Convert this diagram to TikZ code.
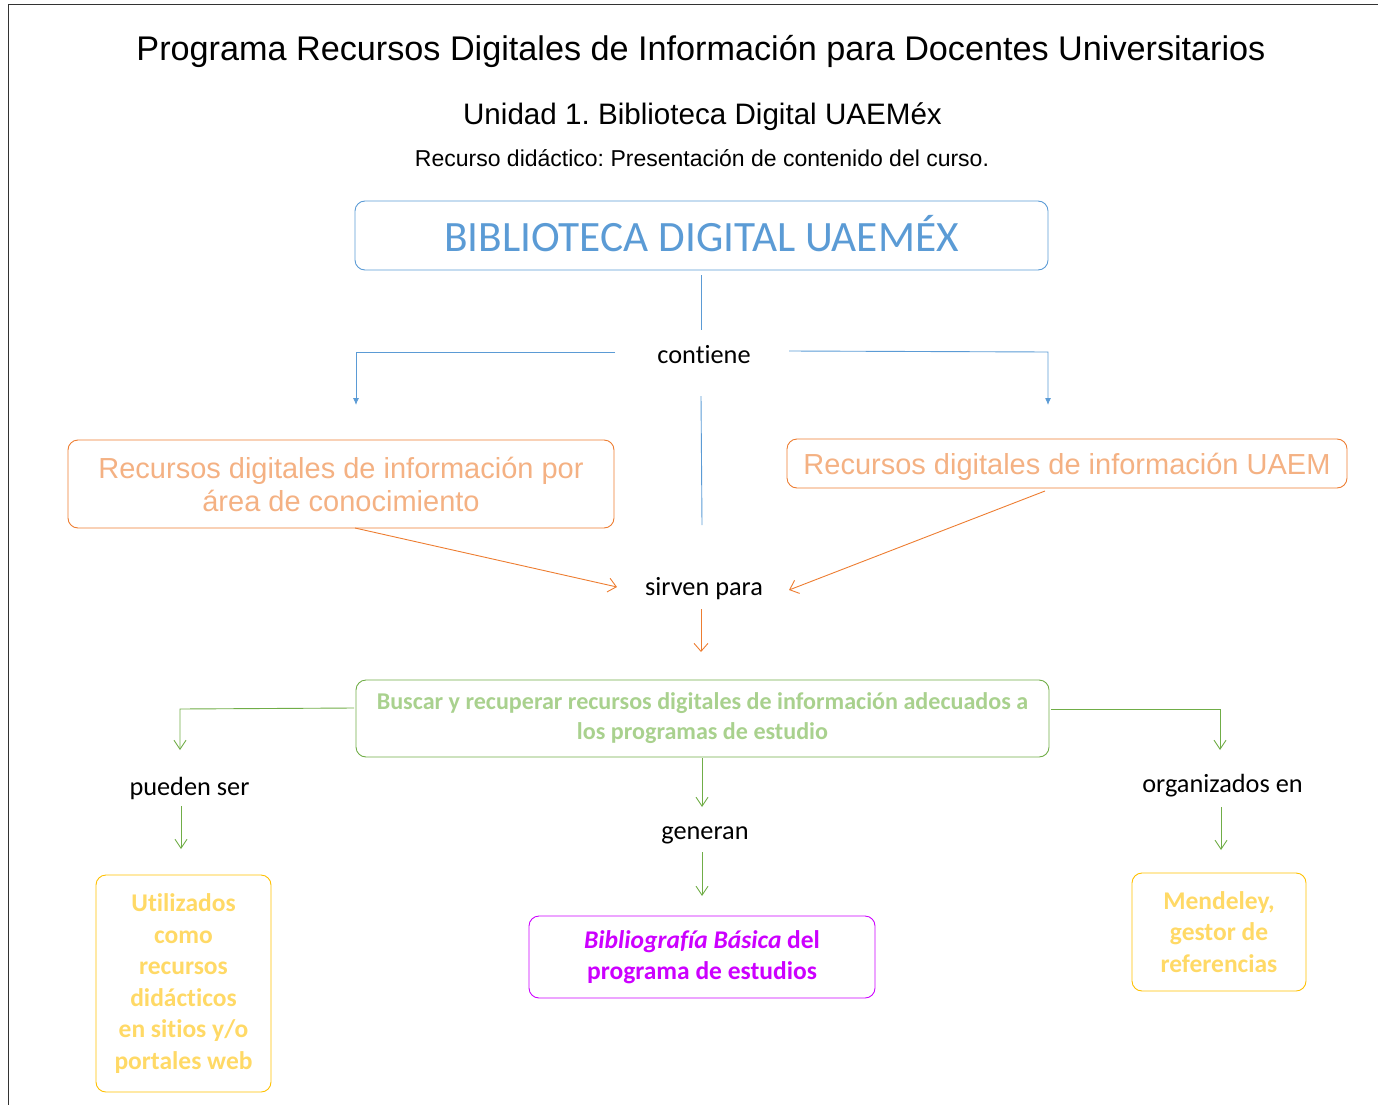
\documentclass[tikz,border=0pt]{standalone}
\usepackage{fontspec}
\setmainfont{Liberation Sans}
\newfontfamily\calib[Ligatures=NoCommon]{Carlito}
\usetikzlibrary{arrows.meta}
\frenchspacing
\definecolor{cblue}{HTML}{5B9BD5}
\definecolor{corange}{HTML}{ED7D31}
\definecolor{corangetxt}{HTML}{F4B183}
\definecolor{cgreen}{HTML}{70AD47}
\definecolor{cgreentxt}{HTML}{A9D18E}
\definecolor{cyellow}{HTML}{FFC000}
\definecolor{cyellowtxt}{HTML}{FFD966}
\definecolor{cmag}{HTML}{CC00FF}
\tikzset{
  box/.style={draw, rounded corners=10pt, line width=0.9pt, align=center, inner sep=0pt},
  lbl/.style={font=\calib\fontsize{26.3}{30}\selectfont, inner sep=0pt},
  bluearr/.style={draw=cblue, line width=0.9pt, -{Latex[length=7pt,width=6pt]}},
  bluel/.style={draw=cblue, line width=0.9pt},
  orarr/.style={draw=corange, line width=0.9pt, -{Straight Barb[length=8pt,width=14pt,line width=0.9pt]}},
  grarr/.style={draw=cgreen, line width=0.9pt, -{Straight Barb[length=9pt,width=12pt,line width=0.9pt]}},
}
\begin{document}
\frenchspacing
\begin{tikzpicture}[x=1pt,y=-1pt]
\useasboundingbox (0,0) rectangle (1378,1105);
\draw[line width=1pt, black!80] (8,1105) -- (8,5) -- (1378,5);

\node[inner sep=0pt, font=\fontsize{34.2}{40}\selectfont] (title) at (701,51.5) {Programa Recursos Digitales de Información para Docentes Universitarios};
\node[inner sep=0pt, font=\fontsize{29.6}{32}\selectfont] (sub) at (702.5,116.5) {Unidad 1. Biblioteca Digital UAEMéx};
\node[inner sep=0pt, font=\fontsize{23}{26}\selectfont] (sub2) at (702,158) {Recurso didáctico: Presentación de contenido del curso.};

% boxes
\node[box, draw=cblue, text=cblue, minimum width=693pt, minimum height=69pt, text height=33pt, text depth=2pt, font=\calib\fontsize{43.3}{46}\selectfont] (bib) at (701.5,235.5) {BIBLIOTECA DIGITAL UAEMÉX};
\node[box, draw=corange, text=corangetxt, minimum width=546pt, minimum height=88pt, font=\fontsize{29}{33}\selectfont] (rleft) at (341,484) {Recursos digitales de información por\\área de conocimiento};
\node[box, draw=corange, text=corangetxt, minimum width=560pt, minimum height=49pt, text height=25pt, text depth=4pt, font=\fontsize{29}{33}\selectfont] (rright) at (1067,463.5) {Recursos digitales de información UAEM};
\node[box, draw=cgreen, text=cgreentxt, minimum width=693pt, minimum height=77pt, font=\calib\bfseries\fontsize{24.1}{30}\selectfont] (busc) at (702.5,718.5) {Buscar y recuperar recursos digitales de información adecuados a\\los programas de estudio};
\node[box, draw=cyellow, text=cyellowtxt, minimum width=175pt, minimum height=217pt, font=\calib\bfseries\fontsize{25.5}{31.6}\selectfont] (util) at (183.5,983.5) {Utilizados\\como\\recursos\\didácticos\\en sitios y/o\\portales web};
\node[box, draw=cmag, text=cmag, minimum width=346pt, minimum height=82pt, font=\calib\bfseries\fontsize{25.5}{31.5}\selectfont] (bibl) at (702,957) {\raisebox{-2pt}{\textit{Bibliografía Básica} del}\\[-0.5pt]\raisebox{-2pt}{programa de estudios}};
\node[box, draw=cyellow, text=cyellowtxt, minimum width=174pt, minimum height=118pt, font=\calib\bfseries\fontsize{25.5}{31.5}\selectfont] (mend) at (1219,932) {Mendeley,\\gestor de\\referencias};

% labels
\node[lbl] (cont) at (704,355) {contiene};
\node[lbl] (sirv) at (704,589) {sirven para};
\node[lbl] (pued) at (189.5,788) {pueden ser};
\node[lbl] (gen) at (705,835) {generan};
\node[lbl] (org) at (1222.5,786) {organizados en};

% blue connectors
\coordinate (c1) at (701,275);
\coordinate (c2) at (701,330);
\coordinate (c3) at (701,396);
\coordinate (c4) at (702,525);
\draw[bluel] (c1) -- (c2);
\draw[bluel] (c3) -- (c4);
\coordinate (l1) at (615,352);
\coordinate (l2) at (356,352);
\coordinate (l3) at (356,405);
\draw[bluearr] (l1) -- (l2) -- (l3);
\coordinate (r1) at (789,351);
\coordinate (r2) at (1048,352);
\coordinate (r3) at (1048,405);
\draw[bluearr] (r1) -- (r2) -- (r3);

% orange connectors
\coordinate (o1) at (355,528);
\coordinate (o2) at (617,587);
\draw[orarr] (o1) -- (o2);
\coordinate (o3) at (1045,491);
\coordinate (o4) at (789,590);
\draw[orarr] (o3) -- (o4);
\coordinate (o5) at (701,609);
\coordinate (o6) at (701,652);
\draw[orarr] (o5) -- (o6);

% green connectors
\coordinate (g1) at (354,708);
\coordinate (g2) at (180,709);
\coordinate (g3) at (180,750);
\draw[grarr] (g1) -- (g2) -- (g3);
\coordinate (g4) at (1051,709);
\coordinate (g5) at (1220,709);
\coordinate (g6) at (1220,750);
\draw[grarr] (g4) -- (g5) -- (g6);
\coordinate (g7) at (181,806);
\coordinate (g8) at (181,849);
\draw[grarr] (g7) -- (g8);
\coordinate (g9) at (702,758);
\coordinate (g10) at (702,807);
\draw[grarr] (g9) -- (g10);
\coordinate (g11) at (702,852);
\coordinate (g12) at (702,896);
\draw[grarr] (g11) -- (g12);
\coordinate (g13) at (1221,807);
\coordinate (g14) at (1221,850);
\draw[grarr] (g13) -- (g14);
\end{tikzpicture}
\end{document}
